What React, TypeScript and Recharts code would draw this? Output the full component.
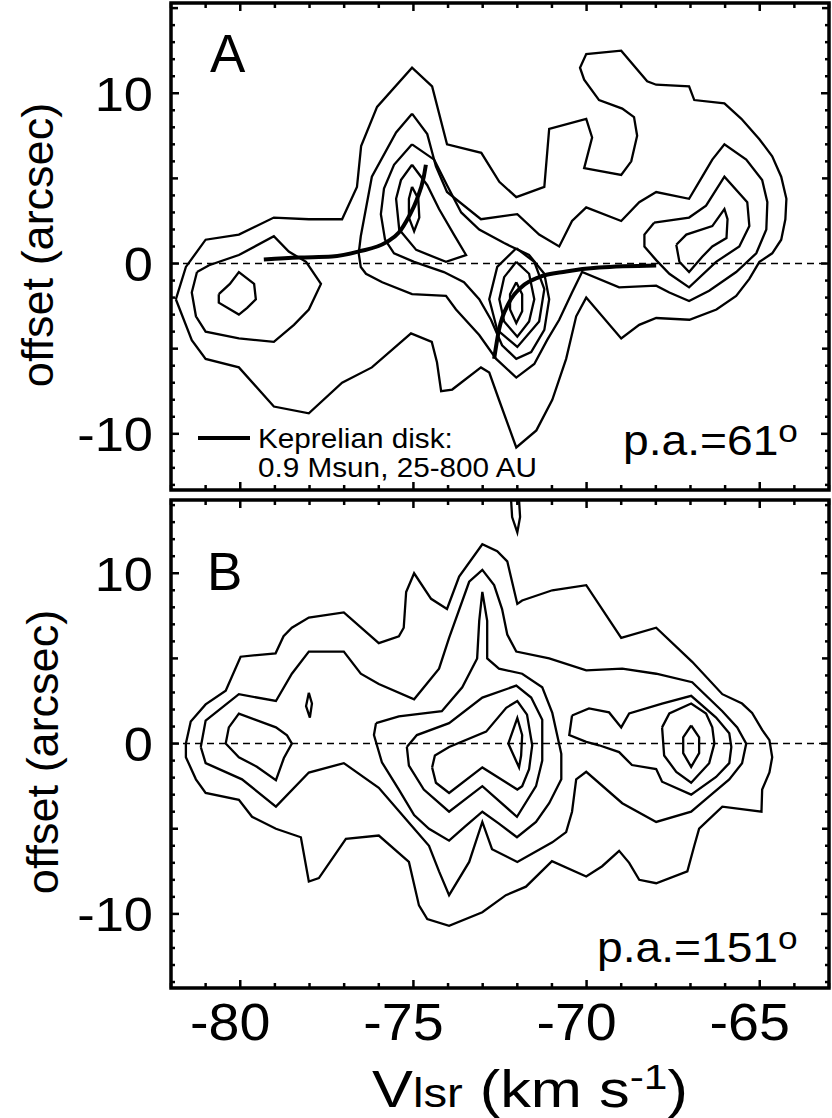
import React from 'react';
import { ComposedChart, Line, XAxis, YAxis, ReferenceLine, ReferenceArea } from 'recharts';

type P = [number, number]; // [velocity km/s, offset arcsec]

const V_DOMAIN: [number, number] = [-82, -63];
const V_TICKS = [-82, -81, -80, -79, -78, -77, -76, -75, -74, -73, -72, -71, -70, -69, -68, -67, -66, -65, -64, -63];
const V_LABELS = [-80, -75, -70, -65];

const A_DOMAIN: [number, number] = [-13.3, 15.3];
const A_TICKS = [-13, -12, -11, -10, -9, -8, -7, -6, -5, -4, -3, -2, -1, 0, 1, 2, 3, 4, 5, 6, 7, 8, 9, 10, 11, 12, 13, 14, 15];
const B_DOMAIN: [number, number] = [-14.35, 14.3];
const B_TICKS = [-14, -13, -12, -11, -10, -9, -8, -7, -6, -5, -4, -3, -2, -1, 0, 1, 2, 3, 4, 5, 6, 7, 8, 9, 10, 11, 12, 13, 14];
const OFFSET_LABELS = [-10, 0, 10];

// ---- panel A (p.a. = 61) contours ----
const A_C1: P[] = [
  [-81.86, -2.1], [-81.57, -0.2], [-81.0, 1.4], [-80.04, 1.7], [-79.03, 2.7], [-78.02, 2.6], [-77.06, 2.6],
  [-76.63, 4.5], [-76.51, 6.9], [-76.05, 9.2], [-75.04, 11.5], [-74.46, 10.4], [-74.03, 7.0], [-73.04, 6.5],
  [-72.52, 4.8], [-72.03, 3.9], [-71.22, 4.5], [-71.08, 7.9], [-70.01, 8.5], [-69.84, 7.4], [-70.07, 5.6],
  [-69.0, 5.2], [-68.71, 6.0], [-68.54, 7.5], [-68.63, 8.6], [-68.97, 9.1], [-69.64, 9.6], [-70.07, 10.8],
  [-70.19, 11.5], [-70.01, 12.3], [-69.0, 12.5], [-68.25, 10.7], [-67.99, 10.5], [-67.04, 10.4], [-66.89, 9.6],
  [-66.02, 9.4], [-65.53, 8.5], [-65.01, 7.3], [-64.64, 6.3], [-64.38, 5.1], [-64.23, 3.8], [-64.26, 2.6],
  [-64.38, 1.4], [-64.64, 0.6], [-65.01, 0.1], [-65.3, -0.9], [-65.68, -1.9], [-66.25, -2.7], [-67.03, -3.3],
  [-67.99, -3.2], [-68.48, -3.6], [-69.0, -4.4], [-70.01, -2.0], [-70.3, -3.1], [-70.59, -5.6], [-70.99, -8.0],
  [-71.45, -9.8], [-72.03, -10.8], [-72.53, -8.0], [-72.81, -6.4], [-73.05, -6.1], [-73.88, -7.4], [-74.2, -7.5],
  [-74.32, -5.8], [-74.47, -4.6], [-75.07, -4.1], [-76.2, -6.1], [-77.06, -7.0], [-78.02, -8.8], [-79.03, -8.4],
  [-80.04, -6.1], [-81.0, -5.6], [-81.4, -4.5],
];
const A_C2_LEFT: P[] = [
  [-81.25, -0.5], [-80.9, -0.1], [-80.04, 0.5], [-79.03, 1.6], [-78.6, 0.7], [-78.1, 0.1], [-77.67, -1.2],
  [-78.02, -2.7], [-78.45, -3.6], [-79.03, -4.6], [-80.04, -4.4], [-81.0, -4.0], [-81.28, -3.1], [-81.4, -1.7],
];
const A_C3_LEFT: P[] = [
  [-80.62, -1.8], [-80.3, -1.2], [-80.04, -0.5], [-79.6, -1.2], [-79.55, -2.1], [-79.8, -2.6], [-80.04, -3.0], [-80.62, -2.3],
];
const A_C2_MID: P[] = [
  [-75.04, 8.8], [-75.5, 7.7], [-76.2, 5.1], [-76.52, 1.6], [-76.58, 0.6], [-76.52, -0.2], [-76.37, -0.6],
  [-75.9, -1.1], [-75.04, -1.8], [-74.06, -1.9], [-73.77, -2.7], [-73.1, -4.2], [-72.61, -5.6], [-72.03, -6.7],
  [-71.51, -5.9], [-71.14, -4.5], [-70.79, -3.3], [-70.42, -1.7], [-70.13, -0.5], [-69.06, -1.4], [-67.99, -1.3],
  [-67.61, -1.7], [-67.04, -2.2], [-66.46, -1.6], [-65.68, -0.5], [-65.1, 0.6], [-64.81, 2.0], [-64.78, 3.6],
  [-64.93, 4.9], [-65.39, 6.1], [-66.02, 7.0], [-66.37, 6.1], [-66.66, 5.1], [-67.04, 3.8], [-67.99, 4.2],
  [-68.48, 3.6], [-69.0, 2.5], [-70.01, 3.3], [-70.42, 2.5], [-70.79, 1.0], [-71.37, 1.7], [-72.0, 2.9],
  [-73.05, 2.6], [-74.03, 4.2], [-74.35, 5.7], [-74.6, 7.6],
];
const A_C3_MID: P[] = [
  [-75.04, 7.0], [-75.56, 5.8], [-75.85, 4.4], [-75.94, 2.9], [-75.82, 1.4], [-75.56, 0.6], [-74.98, 0.1],
  [-74.12, -0.5], [-73.54, -1.1], [-73.1, -2.1], [-72.76, -3.3], [-72.44, -4.8], [-72.03, -5.6], [-71.6, -5.2],
  [-71.22, -3.9], [-71.08, -2.1], [-71.22, -0.6], [-71.66, 0.5], [-72.38, 1.2], [-73.1, 2.0], [-73.62, 3.0],
  [-74.03, 4.6], [-74.4, 6.1],
];
const A_C4_UP: P[] = [
  [-75.04, 5.8], [-75.36, 4.9], [-75.5, 3.8], [-75.41, 2.0], [-74.92, 0.8], [-74.06, 0.1], [-73.48, 0.5],
  [-73.83, 1.7], [-74.26, 3.2], [-74.6, 4.6],
];
const A_C5_UP: P[] = [[-75.04, 4.5], [-74.86, 3.8], [-74.83, 2.7], [-74.98, 1.9], [-75.13, 2.7], [-75.13, 3.8]];
const A_C4_LOW: P[] = [
  [-72.03, 0.9], [-71.51, 0.1], [-71.22, -1.5], [-71.37, -3.4], [-72.0, -4.9], [-72.58, -3.9], [-72.81, -2.1], [-72.58, -0.2],
];
const A_C5_LOW: P[] = [
  [-72.03, 0.1], [-71.66, -0.6], [-71.51, -2.1], [-71.66, -3.4], [-72.0, -4.3], [-72.38, -3.4], [-72.52, -2.1], [-72.38, -0.8],
];
const A_C6_LOW: P[] = [[-72.03, -1.1], [-71.86, -1.8], [-71.86, -2.8], [-72.03, -3.5], [-72.21, -2.7], [-72.21, -1.8]];
const A_C3_RIGHT: P[] = [
  [-68.05, 2.4], [-67.04, 2.7], [-66.55, 3.4], [-66.02, 5.1], [-65.36, 3.6], [-65.3, 2.2], [-65.59, 1.0],
  [-66.26, 0.1], [-67.04, -1.4], [-67.61, -0.6], [-67.99, 0.2], [-68.33, 1.0], [-68.33, 1.7],
];
const A_C4_RIGHT: P[] = [
  [-67.41, 1.1], [-67.12, 1.7], [-66.37, 2.2], [-66.02, 3.2], [-65.93, 2.6], [-65.96, 1.5], [-66.37, 1.0],
  [-66.66, 0.4], [-67.04, -0.5], [-67.32, 0.1],
];
// Keplerian disk curves (0.9 Msun, 25-800 AU)
const KEP_BLUE: P[] = [
  [-79.32, 0.24], [-78.31, 0.35], [-77.35, 0.41], [-76.57, 0.71], [-75.79, 1.24], [-75.42, 1.82],
  [-75.13, 2.76], [-74.9, 3.76], [-74.7, 5.1], [-74.64, 5.8],
];
const KEP_RED: P[] = [
  [-72.67, -5.6], [-72.53, -3.9], [-72.24, -2.3], [-71.86, -1.35], [-71.37, -0.8], [-70.59, -0.47],
  [-69.64, -0.24], [-67.99, -0.12],
];

// ---- panel B (p.a. = 151) contours ----
const B_C1: P[] = [
  [-81.57, 0.0], [-81.43, 1.3], [-81.0, 2.3], [-80.42, 3.1], [-79.99, 5.1], [-78.98, 5.3], [-78.75, 6.3],
  [-78.51, 6.8], [-78.02, 7.4], [-77.01, 7.7], [-76.0, 5.9], [-75.42, 6.3], [-75.28, 6.8], [-75.21, 8.9],
  [-74.98, 10.0], [-74.49, 8.5], [-74.03, 7.9], [-73.68, 9.8], [-73.01, 11.7], [-72.58, 11.3], [-72.29, 10.7],
  [-72.0, 8.2], [-71.86, 8.4], [-70.99, 9.0], [-70.01, 9.3], [-69.0, 6.2], [-67.99, 6.8], [-66.95, 4.8],
  [-66.08, 2.9], [-65.51, 2.35], [-65.22, 1.8], [-64.93, 0.8], [-64.72, 0.2], [-64.64, -0.8], [-64.72, -1.7],
  [-64.93, -2.7], [-64.95, -4.0], [-66.08, -3.7], [-66.75, -5.0], [-66.89, -6.0], [-67.09, -7.5], [-67.99, -8.2],
  [-68.48, -8.0], [-68.77, -7.0], [-69.06, -6.3], [-69.55, -7.2], [-70.01, -7.8], [-71.0, -6.9], [-71.75, -8.4],
  [-72.33, -8.9], [-73.01, -9.9], [-73.97, -10.7], [-74.6, -10.3], [-74.84, -9.5], [-75.13, -6.95], [-76.0, -5.4],
  [-76.95, -5.6], [-77.73, -7.9], [-78.02, -8.1], [-78.25, -5.5], [-78.97, -5.0], [-79.66, -4.3], [-80.04, -3.3],
  [-81.0, -2.9], [-81.28, -2.1], [-81.57, -0.8],
];
const B_C2: P[] = [
  [-81.14, -0.2], [-81.0, 1.35], [-80.04, 2.9], [-78.97, 2.5], [-78.51, 4.1], [-78.02, 5.4], [-77.01, 5.4],
  [-76.52, 4.1], [-76.0, 3.5], [-74.98, 2.6], [-74.26, 4.4], [-73.97, 6.2], [-73.39, 9.5], [-73.01, 10.2],
  [-72.67, 9.3], [-72.44, 7.9], [-72.29, 6.4], [-72.03, 5.4], [-71.08, 5.0], [-70.01, 4.3], [-68.97, 4.4],
  [-67.99, 4.1], [-66.95, 3.6], [-66.08, 1.9], [-65.65, 0.95], [-65.39, 0.0], [-65.51, -1.15], [-65.88, -2.1],
  [-66.46, -3.1], [-66.98, -4.0], [-67.99, -4.6], [-68.97, -3.5], [-70.01, -1.66], [-70.3, -2.1], [-70.42, -4.0],
  [-70.59, -5.2], [-70.99, -5.8], [-72.0, -6.95], [-72.73, -6.2], [-73.01, -4.6], [-73.39, -6.95], [-73.97, -8.9],
  [-74.26, -7.5], [-74.55, -6.0], [-75.04, -4.85], [-76.0, -2.6], [-77.01, -1.15], [-78.02, -1.7], [-78.97, -3.7],
  [-79.95, -2.1], [-81.0, -1.15],
];
const B_C3_LEFT: P[] = [
  [-80.42, 0.0], [-80.33, 0.95], [-80.04, 1.76], [-78.97, 0.95], [-78.65, 0.48], [-78.51, 0.0], [-78.74, -0.85],
  [-78.97, -2.15], [-79.52, -1.36], [-80.04, -0.8],
];
const B_SPOT_LEFT: P[] = [[-78.02, 2.98], [-77.93, 2.35], [-77.99, 1.53], [-78.1, 2.2]];
const B_SPOT_TOP: P[] = [[-72.18, 14.3], [-72.15, 13.3], [-72.0, 12.4], [-71.92, 13.3], [-71.95, 14.3]];
const B_C3_MID: P[] = [
  [-76.08, 1.2], [-75.42, 1.6], [-74.18, 1.9], [-73.59, 3.3], [-73.16, 5.0], [-73.1, 7.2], [-73.01, 8.9],
  [-72.87, 7.2], [-72.87, 5.0], [-72.53, 4.4], [-71.86, 4.1], [-71.28, 3.3], [-70.99, 1.8], [-70.73, -0.6],
  [-70.73, -2.1], [-71.08, -3.5], [-71.46, -4.6], [-72.01, -5.5], [-72.53, -4.7], [-73.01, -4.0], [-73.53, -4.9],
  [-73.97, -5.7], [-74.55, -5.0], [-74.98, -4.2], [-75.42, -2.7], [-75.91, -1.1], [-76.14, 0.5],
];
const B_C4_MID: P[] = [
  [-75.19, -0.2], [-74.9, 0.5], [-73.97, 1.2], [-73.01, 2.7], [-72.03, 3.4], [-71.6, 2.7], [-71.28, 1.4],
  [-71.28, -1.0], [-71.46, -2.5], [-72.01, -4.3], [-73.01, -2.5], [-73.97, -4.0], [-74.7, -2.7], [-75.13, -1.3],
];
const B_C5_MID: P[] = [
  [-74.46, -1.4], [-74.38, -0.7], [-73.97, -0.2], [-72.9, 0.7], [-72.32, 2.1], [-72.0, 2.5], [-71.72, 1.7],
  [-71.57, -0.1], [-71.66, -1.5], [-71.86, -2.5], [-72.0, -2.7], [-73.01, -1.4], [-73.97, -2.9], [-74.35, -2.3],
];
const B_C6_MID: P[] = [[-72.26, 0.0], [-72.0, 1.5], [-71.86, 0.5], [-71.89, -0.7], [-71.95, -1.4]];
const B_C3_RIGHT: P[] = [
  [-70.42, 1.65], [-69.93, 2.06], [-69.35, 1.83], [-69.0, 0.95], [-68.77, 1.77], [-67.82, 2.34], [-66.98, 2.8],
  [-66.26, 1.53], [-65.88, 0.6], [-65.82, -0.2], [-65.88, -1.15], [-66.26, -1.96], [-66.98, -3.0], [-67.82, -2.24],
  [-67.99, -1.5], [-68.69, -1.26], [-69.06, -0.5], [-69.64, -0.1], [-70.01, 0.1], [-70.5, 0.5],
];
const B_C4_RIGHT: P[] = [
  [-67.82, 0.95], [-67.61, 1.77], [-66.98, 2.35], [-66.55, 1.77], [-66.37, 0.95], [-66.31, 0.0], [-66.46, -1.15],
  [-66.98, -2.3], [-67.41, -1.66], [-67.76, -0.7],
];
const B_C5_RIGHT: P[] = [[-66.98, 1.06], [-66.75, 0.37], [-66.75, -0.56], [-66.98, -1.37], [-67.21, -0.56], [-67.21, 0.37]];

const A_CONTOURS = [A_C1, A_C2_LEFT, A_C3_LEFT, A_C2_MID, A_C3_MID, A_C4_UP, A_C5_UP, A_C4_LOW, A_C5_LOW, A_C6_LOW, A_C3_RIGHT, A_C4_RIGHT];
const B_CONTOURS = [B_C1, B_C2, B_C3_LEFT, B_SPOT_LEFT, B_C3_MID, B_C4_MID, B_C5_MID, B_C6_MID, B_C3_RIGHT, B_C4_RIGHT, B_C5_RIGHT];

const FONT = '"Liberation Sans", Arial, Helvetica, sans-serif';
const W = 832;
const PLOT_LEFT = 171;
const PLOT_RIGHT = 829;

const toPts = (a: P[], close = true) => (close ? [...a, a[0]] : a).map(([v, o]) => ({ v, o }));

function OffsetTick(props: any) {
  const { y, payload } = props;
  const val = payload.value;
  const len = val % 10 === 0 ? 8 : val % 5 === 0 ? 7 : 4;
  return (
    <g>
      <line x1={PLOT_LEFT} x2={PLOT_LEFT + len} y1={y} y2={y} stroke="#000" strokeWidth={2.5} />
      <line x1={PLOT_RIGHT} x2={PLOT_RIGHT - len} y1={y} y2={y} stroke="#000" strokeWidth={2.5} />
      {OFFSET_LABELS.includes(val) && (
        <text transform={`translate(153,${y + 17.5}) scale(1.07,1)`} textAnchor="end" fontSize={49} fontFamily={FONT} fill="#000">
          {val}
        </text>
      )}
    </g>
  );
}

function makeVTick(top: number, bottom: number, labelY: number | null) {
  return (props: any) => {
    const { x, payload } = props;
    const val = payload.value;
    const len = val % 5 === 0 ? 8 : 5;
    return (
      <g>
        <line x1={x} x2={x} y1={bottom} y2={bottom - len} stroke="#000" strokeWidth={2.5} />
        <line x1={x} x2={x} y1={top} y2={top + len} stroke="#000" strokeWidth={2.5} />
        {labelY !== null && V_LABELS.includes(val) && (
          <text transform={`translate(${x - 10},${labelY}) scale(1.07,1)`} textAnchor="middle" fontSize={52} fontFamily={FONT} fill="#000">
            {val}
          </text>
        )}
      </g>
    );
  };
}

function Panel(props: {
  height: number;
  xAxisHeight: number;
  domain: [number, number];
  ticks: number[];
  contours: P[][];
  openLines?: P[][];
  thick?: P[][];
  labelY: number | null;
}) {
  const { height, xAxisHeight, domain, ticks, contours, openLines = [], thick = [], labelY } = props;
  const top = 3;
  const bottom = height - xAxisHeight;
  return (
    <ComposedChart width={W} height={height} margin={{ top, right: W - PLOT_RIGHT, bottom: 0, left: 0 }}>
      <XAxis
        type="number"
        dataKey="v"
        domain={V_DOMAIN}
        ticks={V_TICKS}
        interval={0}
        allowDataOverflow
        height={xAxisHeight}
        tickSize={0}
        axisLine={false}
        tickLine={false}
        tick={makeVTick(top, bottom, labelY)}
      />
      <YAxis
        type="number"
        domain={domain}
        ticks={ticks}
        interval={0}
        allowDataOverflow
        width={PLOT_LEFT}
        tickSize={0}
        axisLine={false}
        tickLine={false}
        tick={(p: any) => <OffsetTick {...p} />}
      />
      <ReferenceLine y={0} stroke="#000" strokeWidth={1.6} strokeDasharray="7 5" />
      {contours.map((c, i) => (
        <Line key={`c${i}`} data={toPts(c)} dataKey="o" type="linear" stroke="#000" strokeWidth={2.3} dot={false} activeDot={false} isAnimationActive={false} />
      ))}
      {openLines.map((c, i) => (
        <Line key={`o${i}`} data={toPts(c, false)} dataKey="o" type="linear" stroke="#000" strokeWidth={2.3} dot={false} activeDot={false} isAnimationActive={false} />
      ))}
      {thick.map((c, i) => (
        <Line key={`k${i}`} data={toPts(c, false)} dataKey="o" type="monotone" stroke="#000" strokeWidth={4} dot={false} activeDot={false} isAnimationActive={false} />
      ))}
      <ReferenceArea x1={V_DOMAIN[0]} x2={V_DOMAIN[1]} y1={domain[0]} y2={domain[1]} fill="none" stroke="#000" strokeWidth={3.5} ifOverflow="visible" />
    </ComposedChart>
  );
}

export default function App() {
  return (
    <div style={{ position: 'absolute', left: 0, top: 0, width: W, height: 1118, background: '#fff' }}>
      <div style={{ position: 'absolute', left: 0, top: 0 }}>
        <Panel height={495} xAxisHeight={5} domain={A_DOMAIN} ticks={A_TICKS} contours={A_CONTOURS} thick={[KEP_BLUE, KEP_RED]} labelY={null} />
      </div>
      <div style={{ position: 'absolute', left: 0, top: 497 }}>
        <Panel height={621} xAxisHeight={130} domain={B_DOMAIN} ticks={B_TICKS} contours={B_CONTOURS} openLines={[B_SPOT_TOP]} labelY={543} />
      </div>
      <svg width={W} height={1118} style={{ position: 'absolute', left: 0, top: 0, pointerEvents: 'none' }} fontFamily={FONT}>
        <text x={210} y={72} fontSize={53}>A</text>
        <text x={207} y={590} fontSize={53}>B</text>
        <text transform="translate(53,245) rotate(-90)" textAnchor="middle" fontSize={45}>offset (arcsec)</text>
        <text transform="translate(58,752) rotate(-90)" textAnchor="middle" fontSize={45}>offset (arcsec)</text>
        <text transform="translate(623,455) scale(1.1,1)" fontSize={42}>
          p.a.=61<tspan fontSize={32} dy={-13}>o</tspan>
        </text>
        <text transform="translate(597,962) scale(1.1,1)" fontSize={42}>
          p.a.=151<tspan fontSize={32} dy={-13}>o</tspan>
        </text>
        <line x1={198} x2={250} y1={438} y2={438} stroke="#000" strokeWidth={4} />
        <text transform="translate(258,448) scale(1.1,1)" fontSize={27}>Keprelian disk:</text>
        <text transform="translate(258,477) scale(1.1,1)" fontSize={27}>0.9 Msun, 25-800 AU</text>
        <text transform="translate(372,1107) scale(1.18,1)" fontSize={52}>
          V<tspan fontSize={40}>lsr</tspan> (km s<tspan fontSize={36} dy={-18}>-1</tspan><tspan dy={18}>)</tspan>
        </text>
      </svg>
    </div>
  );
}
